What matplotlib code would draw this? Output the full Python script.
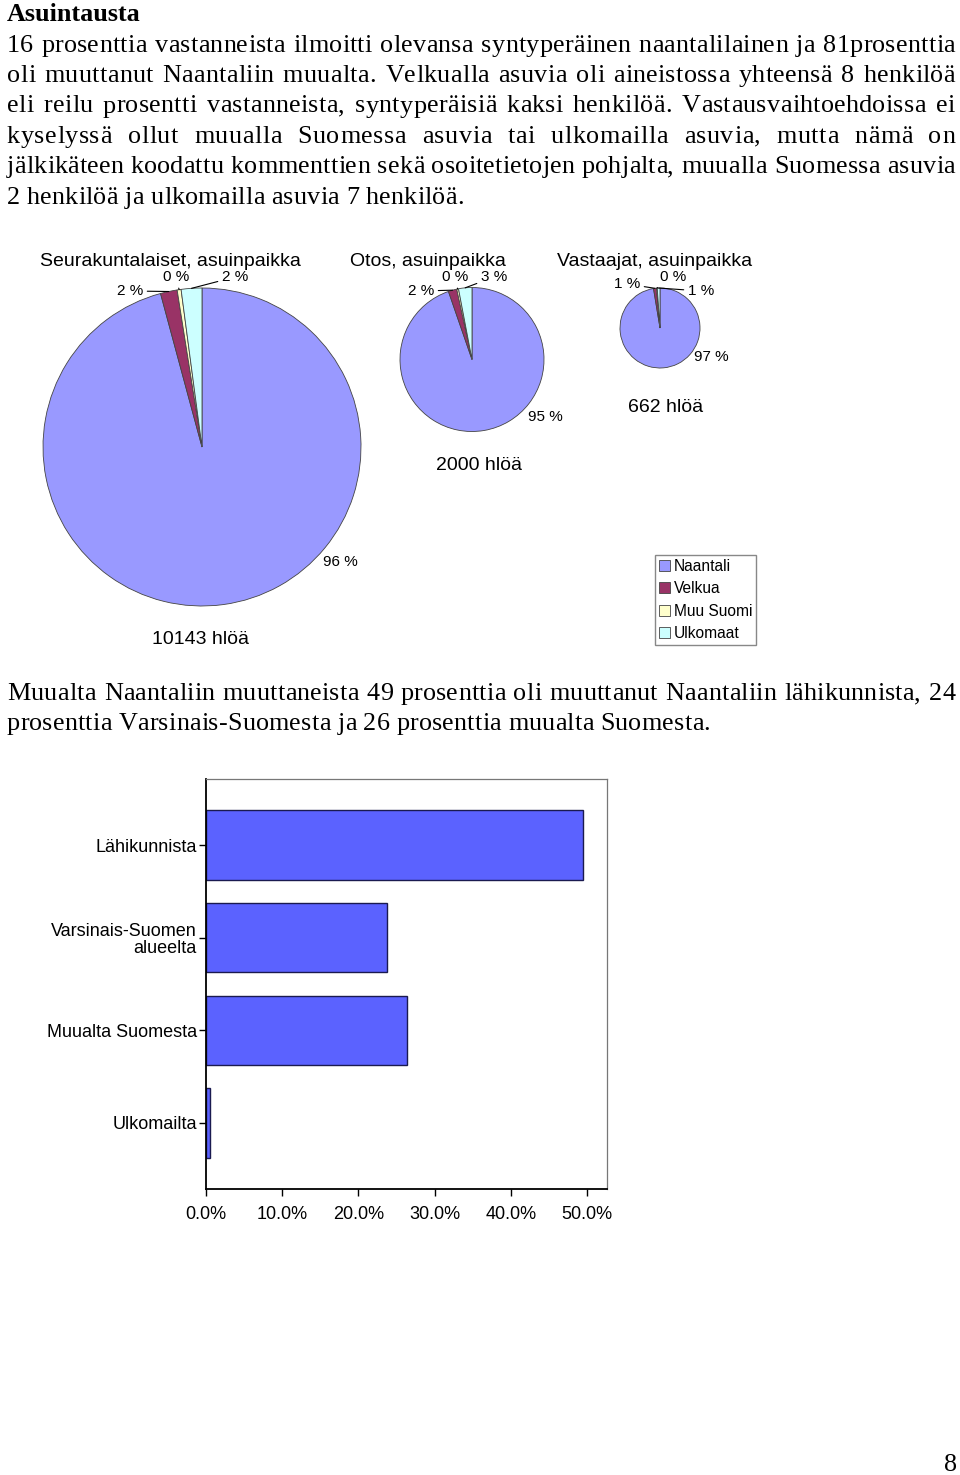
import numpy as np
import matplotlib.pyplot as plt
from matplotlib.patches import Patch

W, H = 960, 1475

# --- data ---
pie_titles = ["Seurakuntalaiset, asuinpaikka", "Otos, asuinpaikka", "Vastaajat, asuinpaikka"]
pie_totals = ["10143 hlöä", "2000 hlöä", "662 hlöä"]
groups = ["Naantali", "Velkua", "Muu Suomi", "Ulkomaat"]
seurakunta = [95.8, 1.7, 0.4, 2.1]
otos = [94.7, 1.9, 0.4, 3.0]
vastaajat = [97.4, 1.2, 0.3, 1.1]
pie_colors = ["#9999ff", "#993366", "#ffffcc", "#ccffff"]

bar_cats = ["Lähikunnista", "Varsinais-Suomen\nalueelta", "Muualta Suomesta", "Ulkomailta"]
bar_vals = [49.4, 23.7, 26.4, 0.5]
bar_ticks = [0, 10, 20, 30, 40, 50]

heading = "Asuintausta"
para1 = [
    "16 prosenttia vastanneista ilmoitti olevansa syntyperäinen naantalilainen ja 81prosenttia",
    "oli muuttanut Naantaliin muualta. Velkualla asuvia oli aineistossa yhteensä 8 henkilöä",
    "eli reilu prosentti vastanneista, syntyperäisiä kaksi henkilöä. Vastausvaihtoehdoissa ei",
    "kyselyssä ollut muualla Suomessa asuvia tai ulkomailla asuvia, mutta nämä on",
    "jälkikäteen koodattu kommenttien sekä osoitetietojen pohjalta, muualla Suomessa asuvia",
    "2 henkilöä ja ulkomailla asuvia 7 henkilöä.",
]
para2 = [
    "Muualta Naantaliin muuttaneista 49 prosenttia oli muuttanut Naantaliin lähikunnista, 24",
    "prosenttia Varsinais-Suomesta ja 26 prosenttia muualta Suomesta.",
]

SERIF = "Liberation Serif"
SANS = "Liberation Sans"
BODY = 18.8
TRACK = 0.17      # px of letter spacing in the source rendering
WORD_W = 25       # weight of a word gap vs a letter gap when justifying

fig = plt.figure(figsize=(W / 100, H / 100), dpi=100)
renderer = fig.canvas.get_renderer()


def fx(x):
    return x / W


def fy(y):
    return 1 - y / H


_probe = fig.text(0, 0, "", fontsize=BODY, family=SERIF)
_cache = {}


def _w(s):
    _probe.set_text(s)
    return _probe.get_window_extent(renderer).width


def glyph(ch):
    # advance width and relative left bearing of one character
    if ch not in _cache:
        base = _w("xx")
        adv = _w("x" + ch + "x") - base
        if ch == " ":
            lsb = 0.0
        else:
            lsb = _w("x" + ch) - _w(ch) - (base - _w("x"))
        _cache[ch] = (adv, lsb)
    return _cache[ch]


def text_line(line, y, justify=True, x0=7, x1=955):
    advs = [glyph(c)[0] + TRACK for c in line]
    natural = sum(advs[:-1]) + glyph(line[-1])[0]
    weights = [0] + [WORD_W if line[i - 1] == " " else 1 for i in range(1, len(line))]
    per = (x1 - x0 - natural) / sum(weights) if justify else 0.0
    x = x0
    for i, ch in enumerate(line):
        x += weights[i] * per
        if ch != " ":
            fig.text(fx(x + glyph(ch)[1]), fy(y), ch, fontsize=BODY, family=SERIF,
                     va="baseline")
        x += advs[i]


fig.text(fx(7), fy(21), heading, fontsize=BODY, family=SERIF, weight="bold", va="baseline")
for i, line in enumerate(para1):
    text_line(line, 51.7 + i * 30.4, justify=(i < len(para1) - 1))
for i, line in enumerate(para2):
    text_line(line, 700 + i * 30.4, justify=(i < len(para2) - 1))
fig.text(fx(957), fy(1471), "8", fontsize=BODY, family=SERIF, ha="right", va="baseline")
_probe.set_text("")

# --- pies ---
pies = [
    dict(vals=seurakunta, c=(202, 447), r=159,
         lab=[(340, 562), (130, 291), (176, 277), (235, 277)],
         tpos=(170, 261), npos=(200, 639)),
    dict(vals=otos, c=(472, 359.5), r=72,
         lab=[(545, 417), (421, 291), (455, 277), (494, 277)],
         tpos=(428, 261), npos=(479, 466)),
    dict(vals=vastaajat, c=(660, 328), r=40,
         lab=[(711, 357), (627, 284), (673, 277), (701, 291)],
         tpos=(655, 261), npos=(666, 407)),
]

for p, title, total in zip(pies, pie_titles, pie_totals):
    cx, cy = p["c"]
    r = p["r"]
    pad = 1.6
    R = r * pad
    ax = fig.add_axes([fx(cx - R), fy(cy + R), 2 * R / W, 2 * R / H])
    wedges, _ = ax.pie(p["vals"], colors=pie_colors, startangle=90, counterclock=False,
                       wedgeprops=dict(edgecolor="#444444", linewidth=0.6))
    ax.set_xlim(-pad, pad)
    ax.set_ylim(-pad, pad)
    ax.axis("off")
    for k, (w, v, (px, py)) in enumerate(zip(wedges, p["vals"], p["lab"])):
        lx, ly = (px - cx) / r, (cy - py) / r
        mid = np.deg2rad((w.theta1 + w.theta2) / 2)
        txt = "%.0f %%" % v
        if k == 0:
            ax.text(lx, ly, txt, fontsize=11, family=SANS, ha="center", va="center")
        else:
            ax.annotate(txt, xy=(np.cos(mid), np.sin(mid)), xytext=(lx, ly),
                        fontsize=11, family=SANS, ha="center", va="center",
                        arrowprops=dict(arrowstyle="-", lw=0.8, color="black",
                                        shrinkA=1, shrinkB=0))
    fig.text(fx(p["tpos"][0]), fy(p["tpos"][1]), title, fontsize=14, family=SANS,
             ha="center", va="center")
    fig.text(fx(p["npos"][0]), fy(p["npos"][1]), total, fontsize=14, family=SANS,
             ha="center", va="center")

handles = [Patch(facecolor=c, edgecolor="#444444", linewidth=0.6) for c in pie_colors]
fig.legend(handles, groups, loc="upper left", bbox_to_anchor=(fx(655), fy(555)),
           prop=dict(family=SANS, size=11.2), frameon=True, fancybox=False,
           edgecolor="#888888", framealpha=1, handlelength=0.7, handleheight=0.7,
           handletextpad=0.25, labelspacing=0.47, borderpad=0.25, borderaxespad=0)

# --- bar chart ---
bx0, bx1, by0, by1 = 206, 607, 779, 1189
bax = fig.add_axes([fx(bx0), fy(by1), (bx1 - bx0) / W, (by1 - by0) / H])
ypos = list(range(len(bar_cats)))
bax.barh(ypos, bar_vals, height=0.75, color="#5b62ff", edgecolor="#1a1a50", linewidth=1)
bax.set_xlim(0, 52.6)
bax.set_ylim(3.715, -0.715)
bax.set_yticks(ypos)
bax.set_yticklabels(bar_cats, fontsize=13, family=SANS, ha="right", linespacing=1.0)
bax.set_xticks(bar_ticks)
bax.set_xticklabels(["%.1f%%" % t for t in bar_ticks], fontsize=13, family=SANS)
bax.tick_params(axis="both", direction="out", length=5, width=1, color="black")
bax.tick_params(axis="x", pad=7)
bax.tick_params(axis="y", pad=1.5)
for s in ["left", "bottom"]:
    bax.spines[s].set_linewidth(1.3)
    bax.spines[s].set_color("black")
for s in ["top", "right"]:
    bax.spines[s].set_linewidth(0.9)
    bax.spines[s].set_color("#777777")

fig.savefig("out.png", dpi=100)
